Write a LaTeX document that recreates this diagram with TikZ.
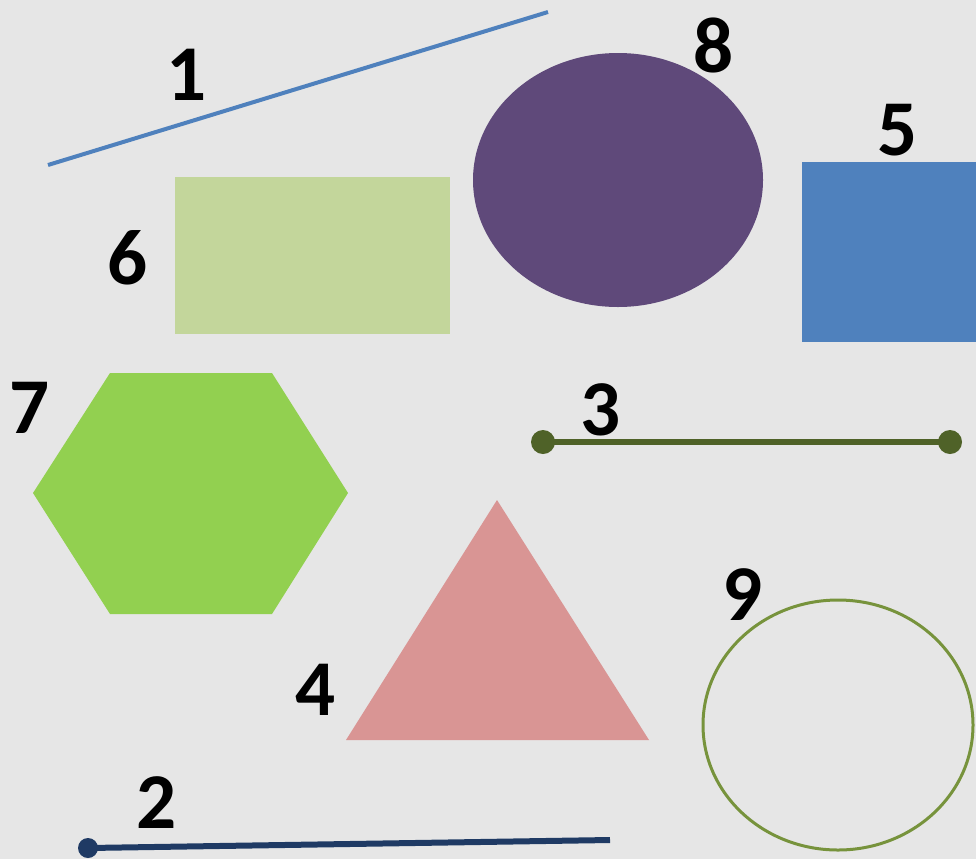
\documentclass[tikz,border=0pt]{standalone}
\usepackage{fontspec}
\setmainfont{Carlito}
\definecolor{bgpaper}{HTML}{E6E6E6}
\definecolor{lineblue}{HTML}{4F81BD}
\definecolor{navy}{HTML}{1F3A64}
\definecolor{olivedark}{HTML}{4F6228}
\definecolor{olivering}{HTML}{77933C}
\definecolor{plum}{HTML}{5F497A}
\definecolor{sage}{HTML}{C3D69B}
\definecolor{limegreen}{HTML}{92D050}
\definecolor{rosy}{HTML}{D99594}
\tikzset{
  num/.style={font=\fontsize{45}{45}\selectfont\bfseries, text=black, inner sep=0pt},
  endpt/.style={circle, inner sep=0pt, minimum size=#1}
}
\begin{document}
\begin{tikzpicture}[x=0.02cm, y=-0.02cm]
        % Latar
        \fill[bgpaper] (0,0) rectangle (976,859);
        \useasboundingbox (0,0) rectangle (976,859);

        % Garis 1
        \coordinate (l1a) at (48,165);
        \coordinate (l1b) at (548,12);
        \draw[lineblue, line width=4*0.569pt] (l1a) -- (l1b);
        \node[num] (n1) at (187,75) {1};

        % Garis 2
        \coordinate (l2a) at (88,848);
        \coordinate (l2b) at (610,840);
        \draw[navy, line width=6*0.569pt] (l2a) -- (l2b);
        \fill[navy] (l2a) circle (10);
        \node[num] (n2) at (157,803) {2};

        % Garis 3
        \coordinate (l3a) at (543,442);
        \coordinate (l3b) at (950,442);
        \draw[olivedark, line width=6*0.569pt] (l3a) -- (l3b);
        \fill[olivedark] (l3a) circle (12) (l3b) circle (12);
        \node[num] (n3) at (601,410) {3};

        % Segitiga 4
        \fill[rosy] (497,500) -- (649,740) -- (346,740) -- cycle;
        \node[num] (n4) at (316,690) {4};

        % Persegi 5
        \fill[lineblue] (802,162) rectangle (976,342);
        \node[num] (n5) at (898,130) {5};

        % Persegi panjang 6
        \fill[sage] (175,177) rectangle (450,334);
        \node[num] (n6) at (128,258) {6};

        % Segienam 7
        \fill[limegreen] (33,493) -- (110,373) -- (272,373) -- (348,493)
          -- (272,614) -- (110,614) -- cycle;
        \node[num] (n7) at (30,408) {7};

        % Elips 8
        \fill[plum] (618,180) ellipse [x radius=145, y radius=127];
        \node[num] (n8) at (714,45) {8};

        % Lingkaran 9
        \draw[olivering, line width=3*0.569pt] (838,725) ellipse [x radius=135, y radius=125];
        \node[num] (n9) at (743,595) {9};
    \end{tikzpicture}
\end{document}
